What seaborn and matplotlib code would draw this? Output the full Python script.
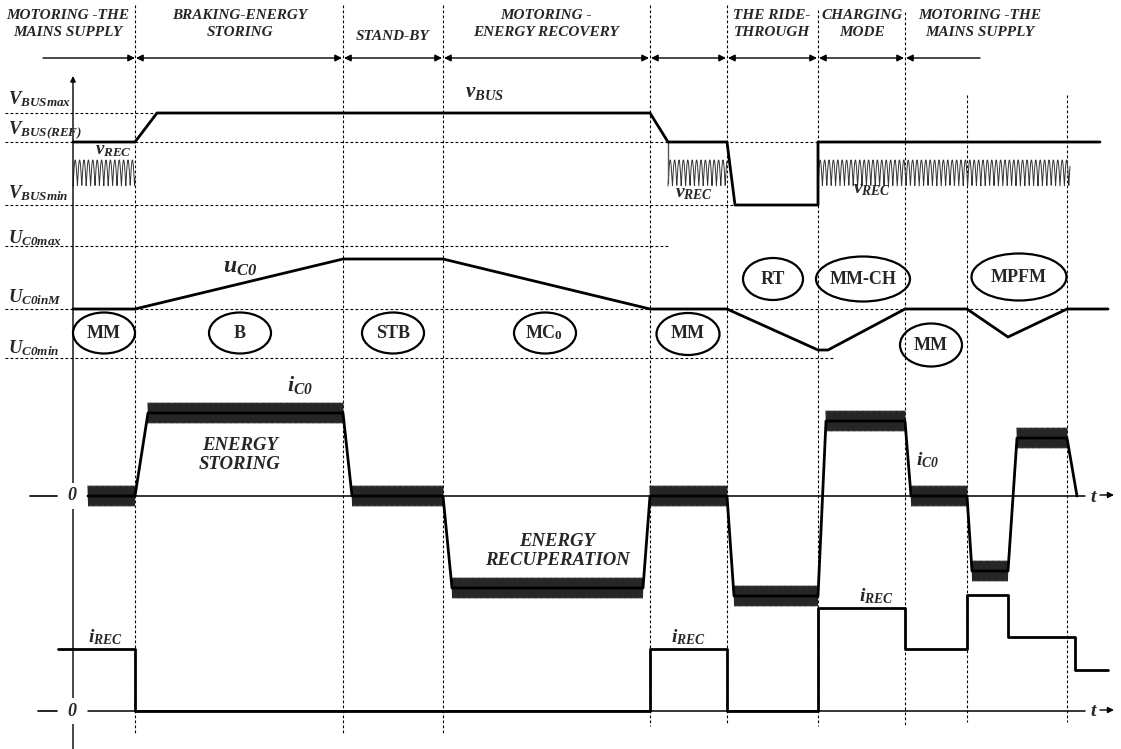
import numpy as np
import matplotlib
matplotlib.use("Agg")
import matplotlib.pyplot as plt
from matplotlib.patches import Ellipse
import seaborn as sns

sns.set_style("white")
plt.rcParams['font.family'] = ['Liberation Serif', 'DejaVu Serif']
plt.rcParams['mathtext.fontset'] = 'custom'
plt.rcParams['mathtext.it'] = 'Liberation Serif:italic:bold'
plt.rcParams['mathtext.rm'] = 'Liberation Serif:italic:bold'
plt.rcParams['mathtext.bf'] = 'Liberation Serif:italic:bold'

# ---------------- data (time axis in diagram units) ----------------
mode_bounds = [135, 343, 443, 650, 727, 818, 905, 967, 1067]
mode_bound_top = [5, 5, 5, 5, 5, 10, 12, 95, 95]
mode_bound_bot = [733, 733, 733, 726, 724, 726, 726, 722, 722]

header_texts = ["MOTORING -THE\nMAINS SUPPLY", "BRAKING-ENERGY\nSTORING", "STAND-BY",
                "MOTORING -\nENERGY RECOVERY", "THE RIDE-\nTHROUGH", "CHARGING\nMODE",
                "MOTORING -THE\nMAINS SUPPLY"]
header_x = [68, 240, 393, 546, 772, 862, 980]

# levels (vertical diagram units, down = larger)
lvl_names = [r'$V_{BUSmax}$', r'$V_{BUS(REF)}$', r'$V_{BUSmin}$',
             r'$U_{C0max}$', r'$U_{C0inM}$', r'$U_{C0min}$']
lvl_vals = [113, 142, 205, 246, 309, 358]
lvl_end = [650, 1100, 735, 668, 1105, 835]
lvl_label_y = [99, 130, 193, 238, 297, 348]

# v_BUS
vbus_t = [73, 135, 157, 650, 668, 727, 735, 818, 818, 1100]
vbus_v = [142, 142, 113, 113, 142, 142, 205, 205, 142, 142]
# v_REC ripple windows
vrec_win = [(73, 135), (668, 727), (818, 1070)]
vrec_top, vrec_bot = 160, 186

# u_C0
uc_t = [73, 135, 343, 443, 650, 727, 818, 828, 905, 967, 1008, 1067, 1108]
uc_v = [309, 309, 259, 259, 309, 309, 350, 350, 309, 309, 337, 309, 309]

# i_C0
ic_zero = 496
ic_t = [88, 135, 148, 343, 352, 443, 452, 643, 650, 727, 734, 818, 826, 905, 911, 967, 972, 1008, 1017, 1067, 1077]
ic_v = [496, 496, 413, 413, 496, 496, 588, 588, 496, 496, 596, 596, 421, 421, 496, 496, 571, 571, 438, 438, 496]

# i_REC
irec_zero = 711
irec_t = [58, 135, 135, 650, 650, 727, 727, 818, 818, 905, 905, 967, 967, 1008, 1008, 1075, 1075, 1108]
irec_v = [649, 649, 711, 711, 649, 649, 711, 711, 608, 608, 649, 649, 595, 595, 637, 637, 670, 670]

# mode ellipses: label, cx, cy, w, h
ell_lbl = ["MM", "B", "STB", "MC", "MM", "RT", "MM-CH", "MM", "MPFM"]
ell_cx = [104, 240, 393, 545, 688, 773, 863, 931, 1019]
ell_cy = [333, 333, 333, 333, 334, 279, 279, 345, 277]
ell_w = [62, 62, 62, 62, 63, 60, 94, 62, 95]
ell_h = [41, 41, 41, 41, 42, 42, 45, 43, 47]

# ---------------- figure ----------------
fig = plt.figure(figsize=(11.21, 7.49), dpi=100)
ax = fig.add_axes([0, 0, 1, 1])
ax.set_xlim(0, 1121)
ax.set_ylim(749, 0)
ax.axis('off')

K = 'black'
hfont = dict(fontfamily='Liberation Serif', fontweight='bold', fontstyle='italic')

# vertical dashed mode boundaries
for x, y0, y1 in zip(mode_bounds, mode_bound_top, mode_bound_bot):
    ax.plot([x, x], [y0, y1], color=K, lw=0.8, ls=(0, (2.5, 2)), zorder=1)

# header texts and arrows
for s, x in zip(header_texts, header_x):
    yy = 36 if '\n' not in s else 24
    ax.text(x, yy, s, ha='center', va='center', fontsize=11, linespacing=1.4, **hfont)
arr_y = 58
ap = dict(color=K, lw=1, mutation_scale=10, shrinkA=0, shrinkB=0)
ax.annotate('', xy=(135, arr_y), xytext=(43, arr_y), arrowprops=dict(arrowstyle='-|>', **ap))
for a, b in zip(mode_bounds[:6], mode_bounds[1:7]):
    ax.annotate('', xy=(b - 1, arr_y), xytext=(a + 1, arr_y), arrowprops=dict(arrowstyle='<|-|>', **ap))
ax.annotate('', xy=(906, arr_y), xytext=(980, arr_y), arrowprops=dict(arrowstyle='-|>', **ap))

# vertical axis
ax.annotate('', xy=(73, 76), xytext=(73, 749),
            arrowprops=dict(arrowstyle='-|>', color=K, lw=1, mutation_scale=8, shrinkA=0, shrinkB=0))

# horizontal reference levels
for name, v, xe, ly in zip(lvl_names, lvl_vals, lvl_end, lvl_label_y):
    ax.plot([5, xe], [v, v], color=K, lw=0.8, ls=(0, (2.5, 2)), zorder=1)
    ax.text(8, ly, name, ha='left', va='center', fontsize=13.5, zorder=5)

# v_REC ripple (rectified)
for a, b in vrec_win:
    tt = np.linspace(a, b, int((b - a) * 12))
    rr = vrec_bot - (vrec_bot - vrec_top) * np.abs(np.sin(np.pi * (tt - a) / 4.4))
    ax.plot(tt, rr, color='#333333', lw=0.7, zorder=2)
ax.plot([668, 668], [142, 183], color='#555555', lw=1, zorder=2)

# v_BUS
sns.lineplot(x=vbus_t, y=vbus_v, sort=False, estimator=None, color=K, lw=2, ax=ax, zorder=4)
ax.text(485, 92, r'$v_{BUS}$', ha='center', va='center', fontsize=15)
ax.text(113, 151, r'$v_{REC}$', ha='center', va='center', fontsize=13.5, zorder=5)
ax.text(694, 194, r'$v_{REC}$', ha='center', va='center', fontsize=14)
ax.text(872, 190, r'$v_{REC}$', ha='center', va='center', fontsize=14)

# u_C0
sns.lineplot(x=uc_t, y=uc_v, sort=False, estimator=None, color=K, lw=2, ax=ax, zorder=4)
ax.text(240, 268, r'$u_{C0}$', ha='center', va='center', fontsize=17)

# ellipses
for lbl, cx, cy, w, h in zip(ell_lbl, ell_cx, ell_cy, ell_w, ell_h):
    ax.add_patch(Ellipse((cx, cy), w, h, fill=False, ec=K, lw=1.6, zorder=4))
    if lbl == "MC":
        ax.text(cx - 4, cy, "MC", ha='center', va='center', fontsize=13,
                fontfamily='Liberation Serif', fontweight='bold')
        ax.text(cx + 13, cy + 3, "0", ha='center', va='center', fontsize=9.5,
                fontfamily='Liberation Serif', fontweight='bold')
    else:
        ax.text(cx, cy, lbl, ha='center', va='center', fontsize=13,
                fontfamily='Liberation Serif', fontweight='bold')

# zero lines
for z, dash0 in [(ic_zero, 30), (irec_zero, 38)]:
    ax.plot([dash0, 57], [z, z], color=K, lw=1.2)
    ax.plot([88, 1085], [z, z], color=K, lw=1.1, zorder=1)
    ax.text(72, z, '0', ha='center', va='center', fontsize=13, zorder=6,
            bbox=dict(boxstyle='square,pad=0.25', fc='white', ec='none'), **hfont)
    ax.text(1093, z + 1, 't', ha='center', va='center', fontsize=14, **hfont)
    ax.annotate('', xy=(1114, z - 1), xytext=(1100, z - 1),
                arrowprops=dict(arrowstyle='-|>', color=K, lw=1, mutation_scale=9, shrinkA=0, shrinkB=0))

# i_C0 ripple bands on flat segments
for i in range(len(ic_t) - 1):
    if ic_v[i] == ic_v[i + 1] and ic_t[i + 1] > ic_t[i]:
        a, b, lv = ic_t[i], ic_t[i + 1], ic_v[i]
        n = int((b - a) / 1.2)
        tt = np.linspace(a, b, 2 * n + 1)
        rr = lv + np.where(np.arange(tt.size) % 2 == 0, -10, 10)
        ax.plot(tt, rr, color='#262626', lw=0.8, zorder=3)
sns.lineplot(x=ic_t, y=ic_v, sort=False, estimator=None, color=K, lw=2, ax=ax, zorder=4)
ax.text(300, 385, r'$i_{C0}$', ha='center', va='center', fontsize=16)
ax.text(928, 460, r'$i_{C0}$', ha='center', va='center', fontsize=14)
ax.text(240, 455, "ENERGY\nSTORING", ha='center', va='center', fontsize=13.5, linespacing=1.2, **hfont)
ax.text(557, 551, "ENERGY\nRECUPERATION", ha='center', va='center', fontsize=13.5, linespacing=1.2, **hfont)

# i_REC
sns.lineplot(x=irec_t, y=irec_v, sort=False, estimator=None, color=K, lw=2, ax=ax, zorder=4)
ax.text(105, 637, r'$i_{REC}$', ha='center', va='center', fontsize=14)
ax.text(688, 637, r'$i_{REC}$', ha='center', va='center', fontsize=14)
ax.text(876, 596, r'$i_{REC}$', ha='center', va='center', fontsize=14)

fig.savefig('out.png', dpi=100)
